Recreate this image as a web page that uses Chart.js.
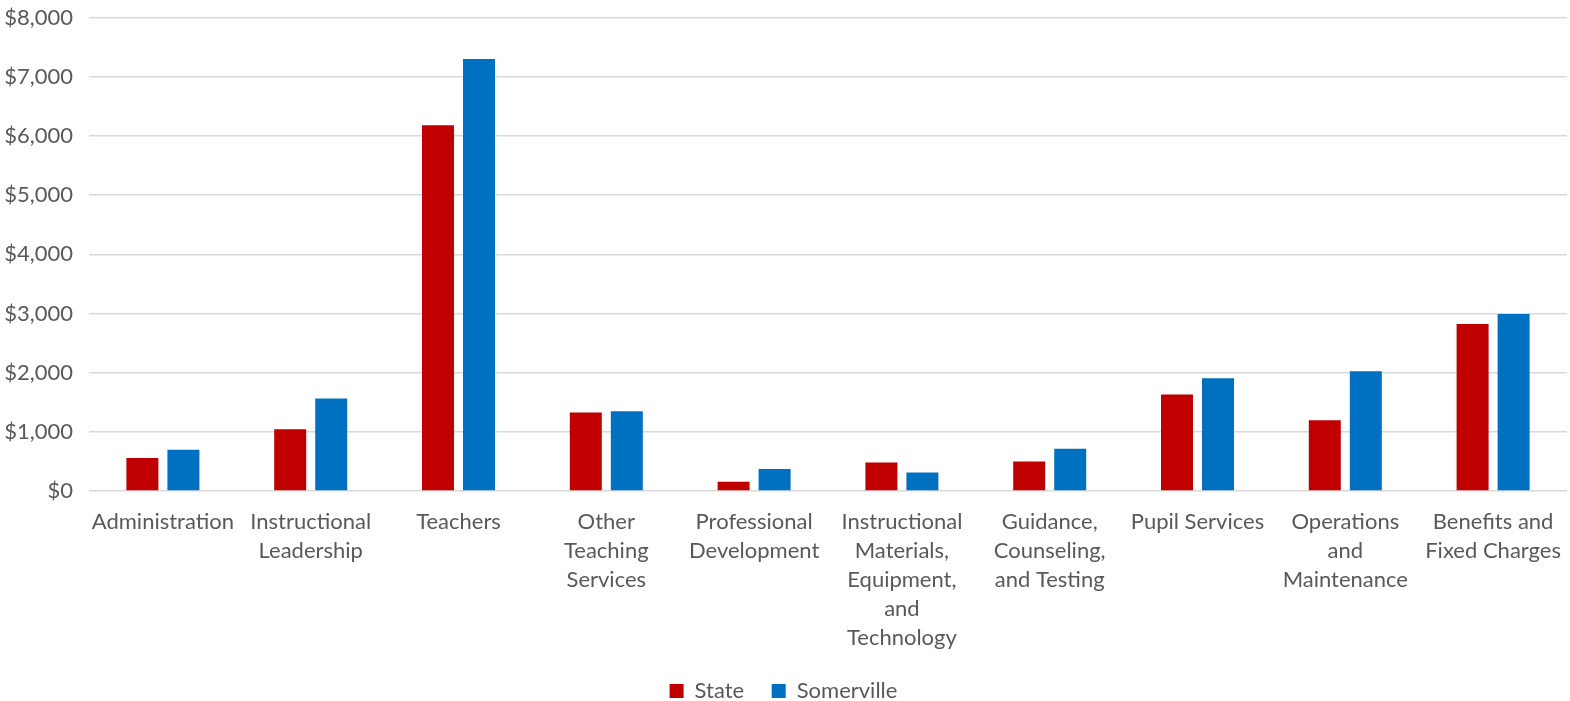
<!DOCTYPE html>
<html>
<head>
<meta charset="utf-8">
<script src="https://cdn.jsdelivr.net/npm/chart.js@4"></script>
<style>
  html, body { margin: 0; padding: 0; background: #fff; }
  #wrap { width: 1570px; height: 701px; }
</style>
</head>
<body>
<div id="wrap"><canvas id="chart"></canvas></div>
<script>
// categories, wrapped like the original
const categories = [
  'Administration',
  ['Instructional', 'Leadership'],
  'Teachers',
  ['Other', 'Teaching', 'Services'],
  ['Professional', 'Development'],
  ['Instructional', 'Materials,', 'Equipment,', 'and', 'Technology'],
  ['Guidance,', 'Counseling,', 'and Testing'],
  'Pupil Services',
  ['Operations', 'and', 'Maintenance'],
  ['Benefits and', 'Fixed Charges']
];

// per-pupil spending
const stateValues = [556, 1042, 6178, 1325, 155, 483, 500, 1631, 1195, 2822];
const somervilleValues = [698, 1563, 7297, 1347, 370, 314, 715, 1907, 2025, 2992];

const yTicks = [0, 1000, 2000, 3000, 4000, 5000, 6000, 7000, 8000];

const textColor = '#595959';
const fontFamily = 'Lato, "Open Sans", sans-serif';

const ctx = document.getElementById('chart').getContext('2d');
new Chart(ctx, {
  type: 'bar',
  data: {
    labels: categories,
    datasets: [
      {
        label: 'State    ',
        data: stateValues,
        backgroundColor: '#C00000',
        categoryPercentage: 0.555,
        barPercentage: 0.78,
      },
      {
        label: 'Somerville',
        data: somervilleValues,
        backgroundColor: '#0070C0',
        categoryPercentage: 0.555,
        barPercentage: 0.78,
      },
    ],
  },
  options: {
    responsive: true,
    maintainAspectRatio: false,
    animation: false,
    layout: { padding: { top: 0, right: 3, left: 0, bottom: -11 } },
    plugins: {
      legend: {
        position: 'bottom',
        labels: {
          color: textColor,
          font: { family: fontFamily, size: 22 },
          boxWidth: 14,
          boxHeight: 14,
          padding: 5,
        },
      },
      tooltip: { enabled: false },
    },
    scales: {
      x: {
        grid: { display: false },
        border: { display: false },
        ticks: {
          color: textColor,
          font: { family: fontFamily, size: 22, lineHeight: 1.32 },
          maxRotation: 0,
          autoSkip: false,
          padding: 8,
        },
        afterFit: (scale) => { scale.height = 184; },
      },
      y: {
        min: 0,
        max: 8000,
        afterBuildTicks: (scale) => { scale.ticks = yTicks.map(v => ({ value: v })); },
        grid: { color: '#d9d9d9', lineWidth: 1.5, drawTicks: false },
        border: { display: false },
        ticks: {
          color: textColor,
          font: { family: fontFamily, size: 22 },
          padding: 16,
          callback: (v) => '$' + Number(v).toLocaleString('en-US'),
        },
        afterFit: (scale) => {
          scale.width = 89;
          scale.paddingTop = 17.5;
          scale.paddingBottom = 0;
        },
      },
    },
  },
});
</script>
</body>
</html>
